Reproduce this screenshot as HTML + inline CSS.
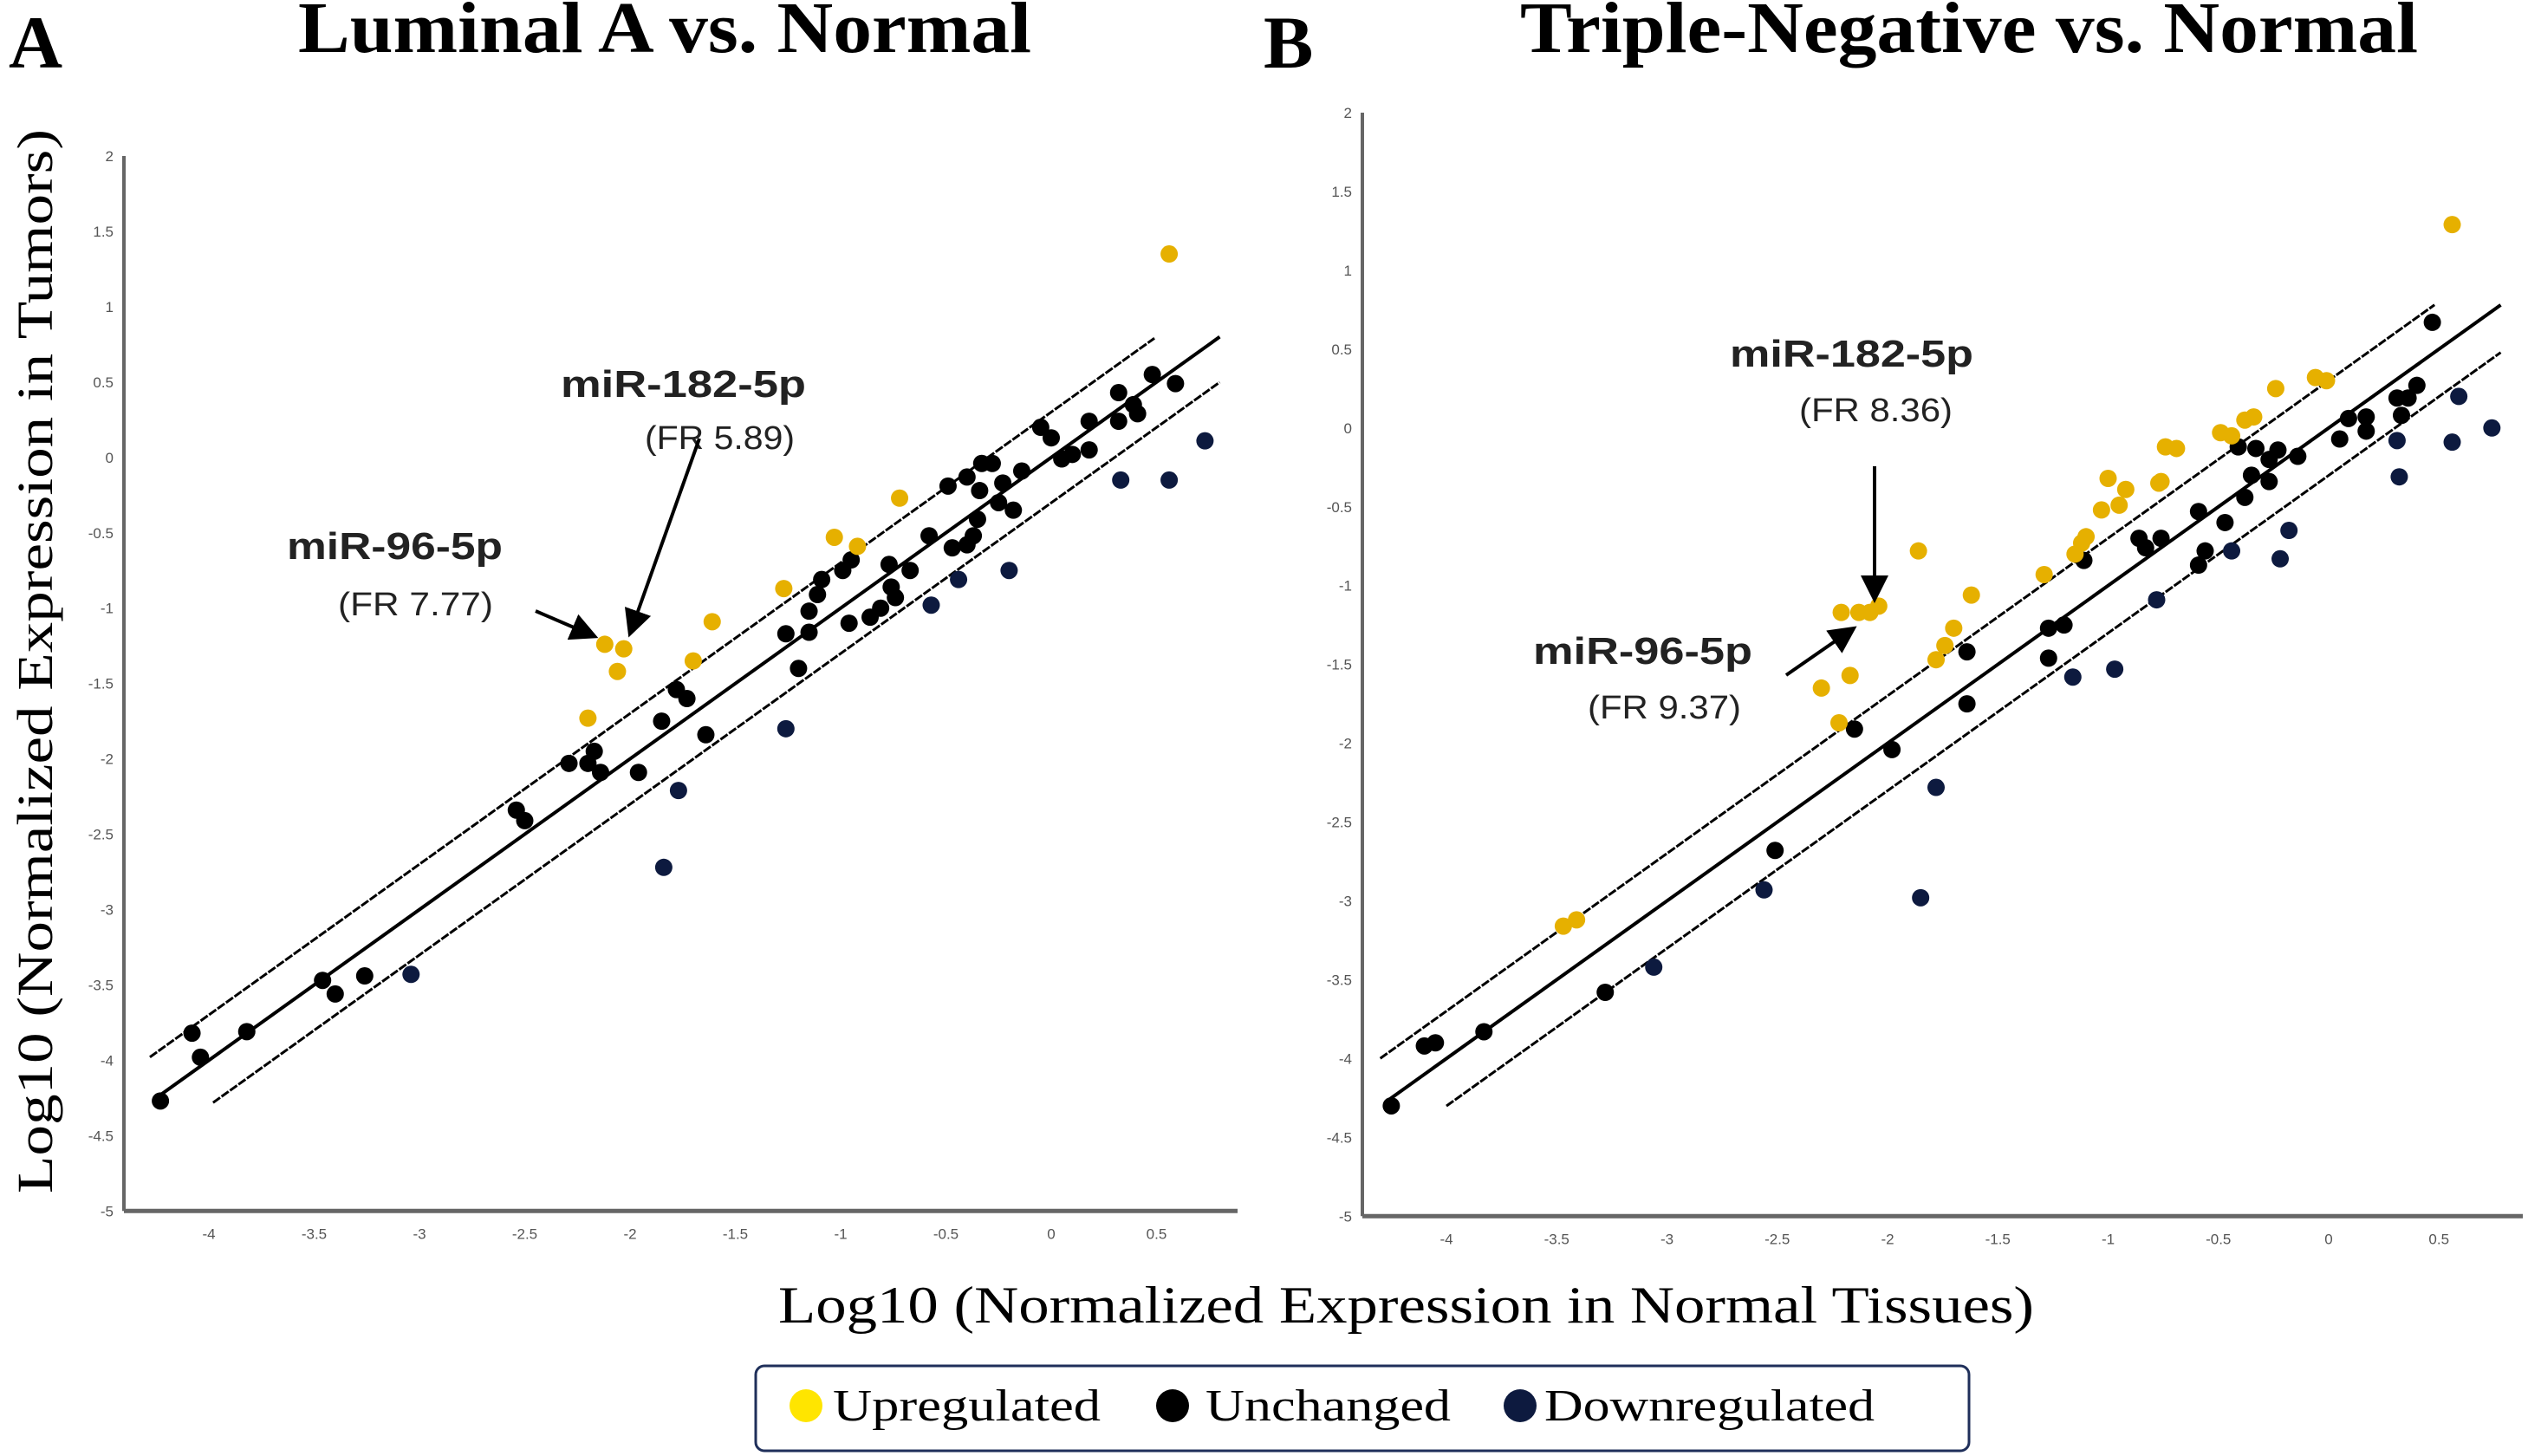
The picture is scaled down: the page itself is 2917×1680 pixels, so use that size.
<!DOCTYPE html>
<html><head><meta charset="utf-8"><style>
html,body{margin:0;padding:0;background:#fff;}
svg{display:block;}
text{font-family:"Liberation Serif",serif;}
.tick{font-family:"Liberation Sans",sans-serif;font-size:17px;fill:#555;}
.ann{font-family:"Liberation Sans",sans-serif;}
</style></head><body>
<svg id="chart" width="2917" height="1680" viewBox="0 0 2917 1680" xmlns="http://www.w3.org/2000/svg">
<defs><marker id="ah" markerWidth="8" markerHeight="8" refX="6" refY="4" orient="auto" markerUnits="strokeWidth"><path d="M0,0 L8,4 L0,8 Z" fill="#000"/></marker></defs>
<text x="10" y="78" font-size="86" font-weight="bold">A</text>
<text x="344" y="60" font-size="84" font-weight="bold" textLength="846" lengthAdjust="spacingAndGlyphs">Luminal A vs. Normal</text>
<text x="1458" y="78" font-size="86" font-weight="bold">B</text>
<text x="1754" y="60" font-size="84" font-weight="bold" textLength="1036" lengthAdjust="spacingAndGlyphs">Triple-Negative vs. Normal</text>
<text x="0" y="0" font-size="58" textLength="1228" lengthAdjust="spacingAndGlyphs" text-anchor="middle" transform="translate(60,763) rotate(-90)">Log10 (Normalized Expression in Tumors)</text>
<text x="898" y="1526" font-size="60" textLength="1449" lengthAdjust="spacingAndGlyphs">Log10 (Normalized Expression in Normal Tissues)</text>
<g>
<rect x="872" y="1576" width="1400" height="98" rx="10" fill="#fff" stroke="#1f2f5a" stroke-width="3"/>
<circle cx="930" cy="1622" r="19" fill="#ffe500"/>
<text x="961" y="1639" font-size="52" textLength="309" lengthAdjust="spacingAndGlyphs">Upregulated</text>
<circle cx="1353" cy="1622" r="19" fill="#000"/>
<text x="1391" y="1639" font-size="52" textLength="283" lengthAdjust="spacingAndGlyphs">Unchanged</text>
<circle cx="1754" cy="1622" r="19" fill="#0d1a3f"/>
<text x="1782" y="1639" font-size="52" textLength="381" lengthAdjust="spacingAndGlyphs">Downregulated</text>
</g>
</svg>
<script>
// ---- data: panel A (Luminal A vs Normal) ----
const aUpX=[0.56,-2.12,-2.03,-2.06,-2.20,-1.70,-1.61,-1.27,-1.03,-0.92,-0.72];
const aUpY=[1.35,-1.24,-1.27,-1.42,-1.73,-1.35,-1.09,-0.87,-0.53,-0.59,-0.27];
const aDownX=[0.33,0.56,0.73,-0.20,-0.44,-0.57,-1.26,-1.77,-1.84,-3.04];
const aDownY=[-0.15,-0.15,0.11,-0.75,-0.81,-0.98,-1.80,-2.21,-2.72,-3.43];
const aMidX=[-4.23,-4.08,-4.04,-3.82,-3.46,-3.40,-3.26,-2.54,-2.50,-2.29,-2.20,-2.17,-2.14,-1.96,-1.85,-1.78,-1.73,-1.64,-1.26,-1.20,-1.15,-1.15,-1.11,-1.09,-0.99,-0.95,-0.96,-0.86,-0.81,-0.77,-0.76,-0.74,-0.67,-0.58,-0.49,-0.47,-0.40,-0.40,-0.37,-0.35,-0.34,-0.33,-0.28,-0.25,-0.23,-0.18,-0.14,-0.05,0.00,0.05,0.10,0.18,0.18,0.32,0.32,0.39,0.41,0.48,0.59];
const aMidY=[-4.27,-3.82,-3.98,-3.81,-3.47,-3.56,-3.44,-2.34,-2.41,-2.03,-2.03,-1.95,-2.09,-2.09,-1.75,-1.54,-1.60,-1.84,-1.17,-1.40,-1.16,-1.02,-0.91,-0.81,-0.75,-0.68,-1.10,-1.06,-1.00,-0.71,-0.86,-0.93,-0.75,-0.52,-0.19,-0.60,-0.58,-0.13,-0.52,-0.41,-0.22,-0.04,-0.04,-0.30,-0.17,-0.35,-0.09,0.20,0.13,-0.01,0.02,0.05,0.24,0.43,0.24,0.35,0.29,0.55,0.49];
// ---- data: panel B (Triple-Negative vs Normal) ----
const bUpX=[0.56,-3.47,-3.41,-2.30,-2.22,-2.17,-2.21,-2.13,-2.08,-2.04,-1.86,-1.78,-1.74,-1.70,-1.62,-1.29,-1.15,-1.12,-1.10,-1.03,-1.00,-0.95,-0.92,-0.77,-0.76,-0.74,-0.69,-0.49,-0.44,-0.38,-0.34,-0.24,-0.06,-0.01];
const bUpY=[1.29,-3.16,-3.12,-1.65,-1.87,-1.57,-1.17,-1.17,-1.17,-1.13,-0.78,-1.47,-1.38,-1.27,-1.06,-0.93,-0.80,-0.73,-0.69,-0.52,-0.32,-0.49,-0.39,-0.35,-0.34,-0.12,-0.13,-0.03,-0.05,0.05,0.07,0.25,0.32,0.30];
const bMidX=[-4.25,-4.10,-4.05,-3.83,-3.28,-2.51,-2.15,-1.98,-1.64,-1.64,-1.11,-1.27,-1.20,-1.27,-0.86,-0.83,-0.76,-0.59,-0.59,-0.56,-0.47,-0.41,-0.38,-0.35,-0.33,-0.27,-0.27,-0.23,-0.14,0.05,0.09,0.17,0.17,0.31,0.33,0.36,0.40,0.47];
const bMidY=[-4.30,-3.92,-3.90,-3.83,-3.58,-2.68,-1.91,-2.04,-1.42,-1.75,-0.84,-1.27,-1.25,-1.46,-0.70,-0.76,-0.70,-0.53,-0.87,-0.78,-0.60,-0.12,-0.44,-0.30,-0.13,-0.34,-0.20,-0.14,-0.18,-0.07,0.06,0.07,-0.02,0.19,0.08,0.19,0.27,0.67];
const bDownX=[-2.56,-3.06,-1.85,-1.78,-1.16,-0.97,-0.78,-0.44,-0.22,-0.18,0.31,0.32,0.56,0.59,0.74];
const bDownY=[-2.93,-3.42,-2.98,-2.28,-1.58,-1.53,-1.09,-0.78,-0.83,-0.65,-0.08,-0.31,-0.09,0.20,0.00];
// ---- ticks & fold-change lines ----
const yTicks=[2,1.5,1,0.5,0,-0.5,-1,-1.5,-2,-2.5,-3,-3.5,-4,-4.5,-5];
const yTickLabels=["2","1.5","1","0.5","0","-0.5","-1","-1.5","-2","-2.5","-3","-3.5","-4","-4.5","-5"];
const xTicks=[-4,-3.5,-3,-2.5,-2,-1.5,-1,-0.5,0,0.5];
const xTickLabels=["-4","-3.5","-3","-2.5","-2","-1.5","-1","-0.5","0","0.5"];
const lineOffsets=[0.301,0,-0.301];
const aLineStart=[-4.28,-4.23,-3.98], aLineEnd=[0.49,0.80,0.80];
const bLineStart=[-4.30,-4.26,-4.00], bLineEnd=[0.48,0.78,0.78];

const NS="http://www.w3.org/2000/svg";
const svg=document.getElementById('chart');
function mk(tag,attrs,parent){const e=document.createElementNS(NS,tag);for(const k in attrs)e.setAttribute(k,attrs[k]);(parent||svg).appendChild(e);return e;}

function panel(P){
  const g=mk('g',{});
  
  
  const sx=v=>P.x0+v*P.ux, sy=v=>P.y0-v*P.uy;
  const yAxis=mk('line',{x1:P.ax,y1:sy(2),x2:P.ax,y2:sy(-5),stroke:'#666','stroke-width':4},g);
  
  
  const xAxis=mk('line',{x1:P.ax,y1:sy(-5),x2:P.xend,y2:sy(-5),stroke:'#666','stroke-width':5},g);
  
  
  yTicks.forEach((v,i)=>{
    const t=mk('text',{x:P.ax-12,y:sy(v)+6,'text-anchor':'end',class:'tick'},g);
    t.textContent=yTickLabels[i];
    
    
  });
  xTicks.forEach((v,i)=>{
    const t=mk('text',{x:sx(v),y:sy(-5)+32,'text-anchor':'middle',class:'tick'},g);
    t.textContent=xTickLabels[i];
    
    
  });
  lineOffsets.forEach((o,i)=>{
    const l=mk('line',{x1:sx(P.ls[i]),y1:sy(P.ls[i]+o),x2:sx(P.le[i]),y2:sy(P.le[i]+o),stroke:'#000','stroke-width':o===0?4:3,'stroke-dasharray':o===0?'none':'10 2'},g);
    
    
  });
  const series=[[P.midX,P.midY,'#000','unchanged-point'],[P.downX,P.downY,'#0d1a3f','downregulated-point'],[P.upX,P.upY,'#e6b000','upregulated-point']];
  series.forEach(s=>{
    s[0].forEach((xv,i)=>{
      const c=mk('circle',{cx:sx(xv),cy:sy(s[1][i]),r:10,fill:s[2]},g);
      
      
    });
  });
  return g;
}
panel({name:'panel-a-scatter',x0:1213,ux:243,y0:180+2*173.9,uy:173.9,ax:143,xend:1428,ls:aLineStart,le:aLineEnd,upX:aUpX,upY:aUpY,midX:aMidX,midY:aMidY,downX:aDownX,downY:aDownY});
panel({name:'panel-b-scatter',x0:2687,ux:254.5,y0:130+2*181.9,uy:181.9,ax:1572,xend:2911,ls:bLineStart,le:bLineEnd,upX:bUpX,upY:bUpY,midX:bMidX,midY:bMidY,downX:bDownX,downY:bDownY});

// annotations
const anns=[
 ['miR-182-5p',647,458,44,'bold',283,'annotation-mir182-a'],['(FR 5.89)',744,518,38,'normal',173,'annotation-fr-a-182'],
 ['miR-96-5p',331,645,44,'bold',249,'annotation-mir96-a'],['(FR 7.77)',390,710,38,'normal',179,'annotation-fr-a-96'],
 ['miR-182-5p',1996,423,44,'bold',281,'annotation-mir182-b'],['(FR 8.36)',2076,486,38,'normal',177,'annotation-fr-b-182'],
 ['miR-96-5p',1769,766,44,'bold',253,'annotation-mir96-b'],['(FR 9.37)',1832,829,38,'normal',177,'annotation-fr-b-96']];
anns.forEach(a=>{
  const t=mk('text',{x:a[1],y:a[2],'font-size':a[3],'font-weight':a[4],class:'ann',fill:'#222',textLength:a[5],lengthAdjust:'spacingAndGlyphs'});
  t.textContent=a[0];
  
  
});
const arrows=[[618,705,683,733],[807,506,728,728],[2163,538,2163,688],[2061,779,2136,727]];
arrows.forEach(a=>{
  const l=mk('line',{x1:a[0],y1:a[1],x2:a[2],y2:a[3],stroke:'#000','stroke-width':4,'marker-end':'url(#ah)'});
  
  
});
</script>
</body></html>
